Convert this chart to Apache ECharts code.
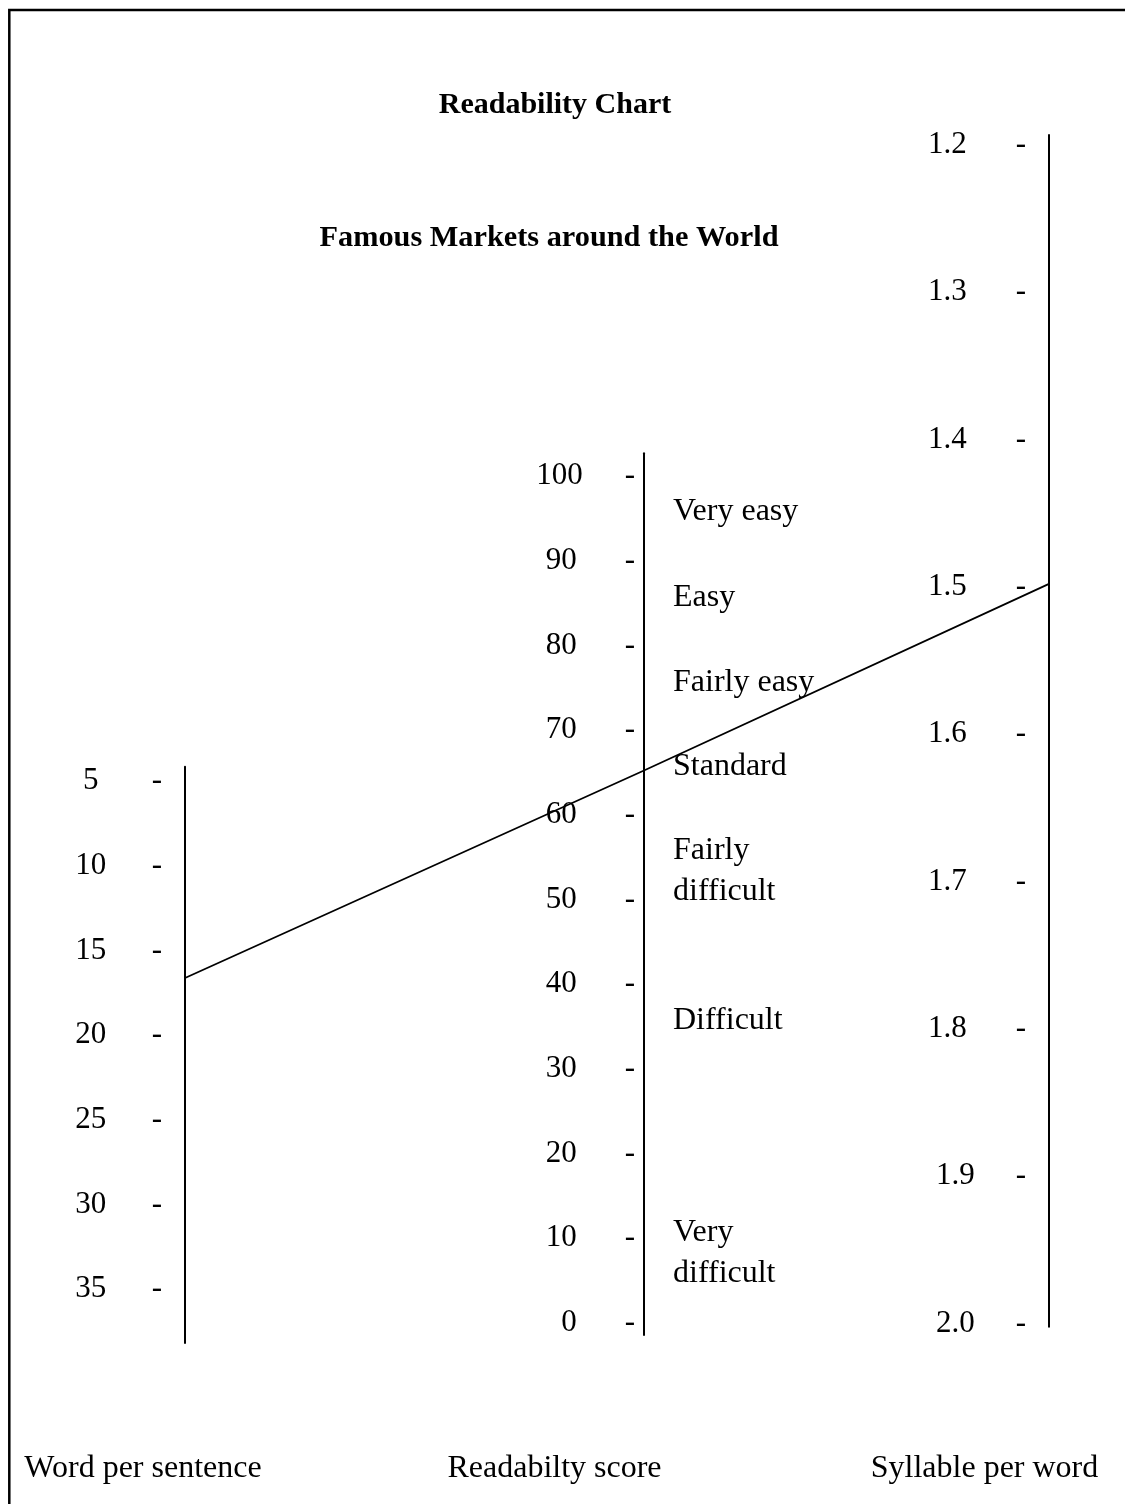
<!DOCTYPE html>
<html><head><meta charset="utf-8">
<script src="https://cdn.jsdelivr.net/npm/echarts@6/dist/echarts.min.js"></script>
<style>html,body{margin:0;padding:0;background:#fff}#c{width:1125px;height:1504px}</style>
</head><body><div id="c"></div>
<script>
// ---- data ----
const wordTicks = [5, 10, 15, 20, 25, 30, 35];
const scoreTicks = [0, 10, 20, 30, 40, 50, 60, 70, 80, 90, 100];
const syllableTicks = [1.2, 1.3, 1.4, 1.5, 1.6, 1.7, 1.8, 1.9, 2.0];
const zoneNames = ['Very easy', 'Easy', 'Fairly easy', 'Standard', 'Fairly\ndifficult', 'Difficult', 'Very\ndifficult'];
const zoneScores = [95.5, 85.3, 75.3, 65.4, 53.0, 35.4, 7.9];
const sampleWords = 16.8;
const sampleScore = 64.9;
const sampleSyllables = 1.5;
const titleText = 'Readability Chart';
const subtitleText = 'Famous Markets around the World';
const axisNames = ['Word per sentence', 'Readabilty score', 'Syllable per word'];

// ---- chart ----
const FONT = 'Liberation Serif';
const FS = 31;
const chart = echarts.init(document.getElementById('c'), null, {renderer: 'canvas'});

function yAx(grid, min, max, inverse, ticks, margin, fmt, rich) {
  return {
    type: 'value', gridIndex: grid, min: min, max: max, inverse: inverse, position: 'left',
    axisLine: {show: true, onZero: false, lineStyle: {color: '#000', width: 2}},
    axisTick: {show: false}, splitLine: {show: false},
    axisLabel: {
      show: true, customValues: ticks, margin: margin, formatter: fmt, padding: [6, 0, 0, 0],
      color: '#000', fontFamily: FONT, fontSize: FS, rich: rich
    }
  };
}
const base = {fontFamily: FONT, fontSize: FS, color: '#000'};

chart.setOption({
  animation: false,
  backgroundColor: '#fff',
  grid: [
    {left: 185, top: 766.7, height: 576.3, width: 60, outerBoundsMode: 'none'},
    {left: 644, top: 453.3, height: 881.7, width: 200, outerBoundsMode: 'none'},
    {left: 1049, top: 135, height: 1191.7, width: 40, outerBoundsMode: 'none'}
  ],
  xAxis: [0, 1, 2].map(i => ({type: 'value', gridIndex: i, min: 0, max: 1, show: false})),
  yAxis: [
    yAx(0, 4.314, 38.37, true, wordTicks, 23,
      v => '{v|' + v + '}{g|}{d|-}',
      {v: Object.assign({width: 40, align: 'center'}, base), g: {width: 41}, d: base}),
    yAx(1, -1.77, 102.36, false, scoreTicks, 9,
      v => '{v|' + v + '}' + (v >= 100 ? '{h|}' : '{g|}') + '{d|-}',
      {v: Object.assign({width: 50, align: 'right'}, base), g: {width: 48}, h: {width: 42}, d: base}),
    yAx(2, 1.19545, 2.00407, true, syllableTicks, 23,
      v => '{v|' + v.toFixed(1) + '}' + (v >= 1.85 ? '{h|}' : '{g|}') + '{d|-}',
      {v: Object.assign({width: 50, align: 'right'}, base), g: {width: 49}, h: {width: 41}, d: base})
  ],
  series: [{
    type: 'scatter', xAxisIndex: 1, yAxisIndex: 1,
    symbolSize: 0, itemStyle: {color: '#000', opacity: 1},
    data: zoneNames.map((n, i) => [0, zoneScores[i], n]),
    label: {
      show: true, position: 'right', distance: 29,
      formatter: p => p.data[2],
      fontFamily: FONT, fontSize: 32, color: '#000', lineHeight: 41
    }
  }]
});

const p0 = chart.convertToPixel({gridIndex: 0}, [0, sampleWords]);
const p1 = chart.convertToPixel({gridIndex: 1}, [0, sampleScore]);
const p2 = chart.convertToPixel({gridIndex: 2}, [0, sampleSyllables]);

function txt(t, x, y, bold, size) {
  return {type: 'text', style: {text: t, x: x, y: y, align: 'center', verticalAlign: 'middle',
    fontFamily: FONT, fontSize: size, fontWeight: bold ? 'bold' : 'normal', fill: '#000'}};
}
chart.setOption({
  graphic: [
    {type: 'rect', shape: {x: 9.3, y: 10, width: 1300, height: 1700},
     style: {fill: null, stroke: '#000', lineWidth: 2.5}, silent: true},
    txt(titleText, 555, 105, true, 30),
    txt(subtitleText, 549, 238, true, 30.3),
    txt(axisNames[0], 143, 1469, false, 32),
    txt(axisNames[1], 554.5, 1469, false, 32),
    txt(axisNames[2], 984.5, 1469, false, 32),
    {type: 'polyline', shape: {points: [p0, p1, p2]}, style: {stroke: '#000', lineWidth: 1.8, fill: null}, z: 10}
  ]
});
</script></body></html>
